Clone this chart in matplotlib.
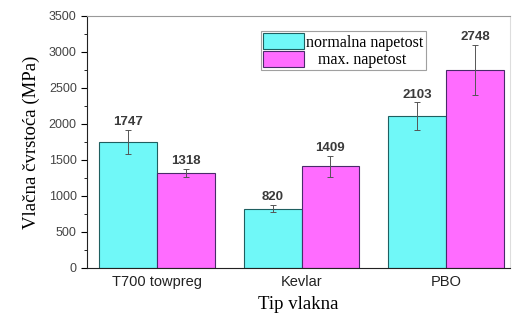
import numpy as np
import matplotlib
matplotlib.use('Agg')
import matplotlib.pyplot as plt

# data
categories = ['T700 towpreg', 'Kevlar', 'PBO']
normal     = [1747, 820, 2103]
normal_err = [170, 50, 195]
maxim      = [1318, 1409, 2748]
maxim_err  = [60, 145, 350]
yticks     = [0, 500, 1000, 1500, 2000, 2500, 3000, 3500]

sans = 'Liberation Sans'
serif = 'Liberation Serif'

fig = plt.figure(figsize=(5.13, 3.17), dpi=100)
ax = fig.add_axes([0.170, 0.155, 0.824, 0.795])

x = np.arange(len(categories))
w = 0.40

ax.bar(x - w/2, normal, w, color='#70f8f8', edgecolor='#1f5f60', lw=0.8,
       label='normalna napetost')
ax.bar(x + w/2, maxim, w, color='#ff6cff', edgecolor='#4a2a6a', lw=0.8,
       label='   max. napetost')

ax.errorbar(x - w/2, normal, yerr=normal_err, fmt='none', ecolor='#555555',
            elinewidth=0.7, capsize=2.5, capthick=0.7)
ax.errorbar(x + w/2, maxim, yerr=maxim_err, fmt='none', ecolor='#555555',
            elinewidth=0.7, capsize=2.5, capthick=0.7)

for xi, v, e in zip(x - w/2, normal, normal_err):
    ax.text(xi, v + e + 25, str(v), ha='center', va='bottom', fontsize=9.5,
            color='#3a3a3a', fontweight='bold', family=sans)
for xi, v, e in zip(x + w/2, maxim, maxim_err):
    ax.text(xi, v + e + 25, str(v), ha='center', va='bottom', fontsize=9.5,
            color='#3a3a3a', fontweight='bold', family=sans)

ax.set_xlim(-0.484, 2.443)
ax.set_ylim(0, 3500)
ax.set_xticks(x)
ax.set_xticklabels(categories, fontsize=10.5, color='#222222', family=sans)
ax.set_yticks(yticks)
ax.set_yticklabels([str(t) for t in yticks], family=sans)
ax.set_yticks(np.arange(250, 3500, 500), minor=True)
ax.tick_params(axis='y', which='major', direction='out', length=4, labelsize=9,
               labelcolor='#444444')
ax.tick_params(axis='y', which='minor', direction='out', length=2)
ax.tick_params(axis='x', length=0, pad=5)

ax.spines['top'].set_color('#999999')
ax.spines['right'].set_color('#dddddd')
ax.spines['left'].set_color('#222222')
ax.spines['bottom'].set_color('#222222')

ax.set_ylabel('Vlačna čvrstoća (MPa)', family=serif, fontsize=13.5, labelpad=6)
ax.set_xlabel('Tip vlakna', family=serif, fontsize=13.5, labelpad=5)

leg = ax.legend(loc='upper left', bbox_to_anchor=(0.41, 0.94), frameon=True,
                fancybox=False, edgecolor='#888888', prop={'family': serif, 'size': 11.5},
                handlelength=2.6, handleheight=1.15, labelspacing=0.0,
                borderpad=0.15, handletextpad=0.1, borderaxespad=0)
leg.get_frame().set_linewidth(0.8)

plt.savefig('out.png', dpi=100, facecolor='w')
